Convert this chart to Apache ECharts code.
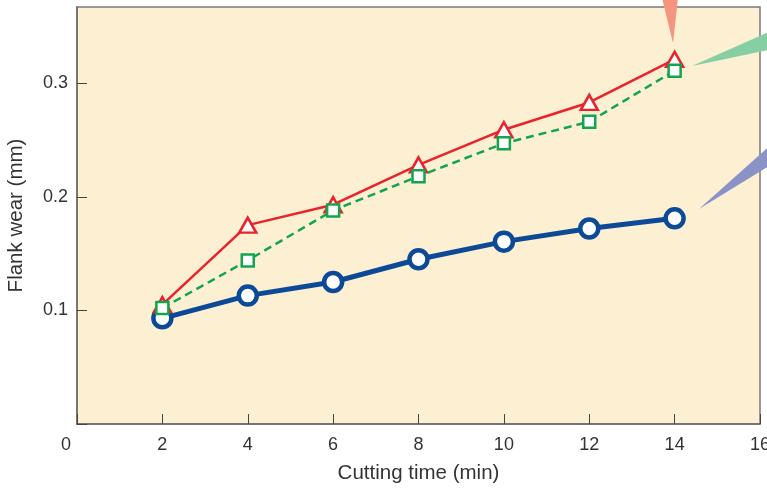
<!DOCTYPE html>
<html>
<head>
<meta charset="utf-8">
<script src="https://cdn.jsdelivr.net/npm/echarts@6/dist/echarts.min.js"></script>
<style>
html,body{margin:0;padding:0;background:#fff;}
#c{width:767px;height:488px;}
</style>
</head>
<body>
<div id="c"></div>
<script>
const times = [2, 4, 6, 8, 10, 12, 14];
const blueWear = [0.093, 0.113, 0.125, 0.145, 0.1605, 0.172, 0.181];
const redWear = [0.105, 0.175, 0.193, 0.228, 0.259, 0.283, 0.321];
const greenWear = [0.102, 0.144, 0.188, 0.218, 0.247, 0.266, 0.311];
const xTicks = [0, 2, 4, 6, 8, 10, 12, 14, 16];
const yTicks = [0.1, 0.2, 0.3];

const FONT = 'Liberation Sans, Arial, sans-serif';
const pair = arr => times.map((t, i) => [t, arr[i]]);

const chart = echarts.init(document.getElementById('c'), null, {renderer: 'canvas'});
chart.setOption({
  animation: false,
  backgroundColor: '#fff',
  grid: {
    left: 77, right: 7, top: 7, bottom: 64,
    containLabel: false, outerBoundsMode: 'none',
    show: true, backgroundColor: '#fdefd2', borderColor: '#7a7a7a', borderWidth: 1.5
  },
  xAxis: {
    type: 'value', min: 0, max: 16, interval: 2,
    name: 'Cutting time (min)', nameLocation: 'middle', nameGap: 39,
    nameTextStyle: {fontFamily: FONT, fontSize: 20.5, color: '#333'},
    axisLine: {show: true, lineStyle: {color: '#6a6a6a', width: 1.5}},
    axisTick: {show: true, inside: true, length: 10, lineStyle: {color: '#444', width: 1}},
    splitLine: {show: false},
    axisLabel: {
      fontFamily: FONT, fontSize: 18, color: '#333', margin: 12,
      showMaxLabel: true, hideOverlap: false,
      formatter: v => {
        if (!xTicks.includes(v)) return '';
        return v === 0 ? '{z|0}' : String(v);
      },
      rich: {z: {fontFamily: FONT, fontSize: 18, color: '#333', padding: [0, 22, 0, 0]}}
    }
  },
  yAxis: {
    type: 'value', min: 0, max: 0.367, interval: 0.1,
    name: 'Flank wear (mm)', nameLocation: 'middle', nameGap: 50,
    nameTextStyle: {fontFamily: FONT, fontSize: 20.5, color: '#333'},
    axisLine: {show: true, lineStyle: {color: '#6a6a6a', width: 1.5}},
    axisTick: {show: true, inside: true, length: 10, lineStyle: {color: '#444', width: 1}},
    splitLine: {show: false},
    axisLabel: {
      fontFamily: FONT, fontSize: 18, color: '#333', margin: 9,
      showMaxLabel: false,
      formatter: v => {
        const hit = yTicks.find(t => Math.abs(t - v) < 1e-6);
        return hit !== undefined ? hit.toFixed(1) : '';
      }
    }
  },
  series: [
    {
      type: 'line', data: pair(blueWear), z: 2,
      symbol: 'circle', symbolSize: 18,
      lineStyle: {color: '#0c4a98', width: 5},
      itemStyle: {color: '#fff', borderColor: '#0c4a98', borderWidth: 4.5}
    },
    {
      type: 'line', data: pair(redWear), z: 3,
      symbol: 'triangle', symbolSize: [17, 15],
      lineStyle: {color: '#e9232b', width: 2.5},
      itemStyle: {color: '#fff', borderColor: '#e9232b', borderWidth: 2.5}
    },
    {
      type: 'line', data: pair(greenWear), z: 4,
      symbol: 'rect', symbolSize: 12,
      lineStyle: {color: '#12a550', width: 2.5, type: [8, 5]},
      itemStyle: {color: '#fff', borderColor: '#12a550', borderWidth: 2.5}
    }
  ],
  graphic: [
    {type: 'polygon', z: 100, shape: {points: [[662, -2], [678, -2], [673, 43]]}, style: {fill: '#f5957d'}},
    {type: 'polygon', z: 100, shape: {points: [[692, 66], [770, 31.5], [770, 49.5]]}, style: {fill: '#86cfa3'}},
    {type: 'polygon', z: 100, shape: {points: [[699, 209], [770, 145.5], [770, 165.5]]}, style: {fill: '#8b93c6'}}
  ]
});
</script>
</body>
</html>
